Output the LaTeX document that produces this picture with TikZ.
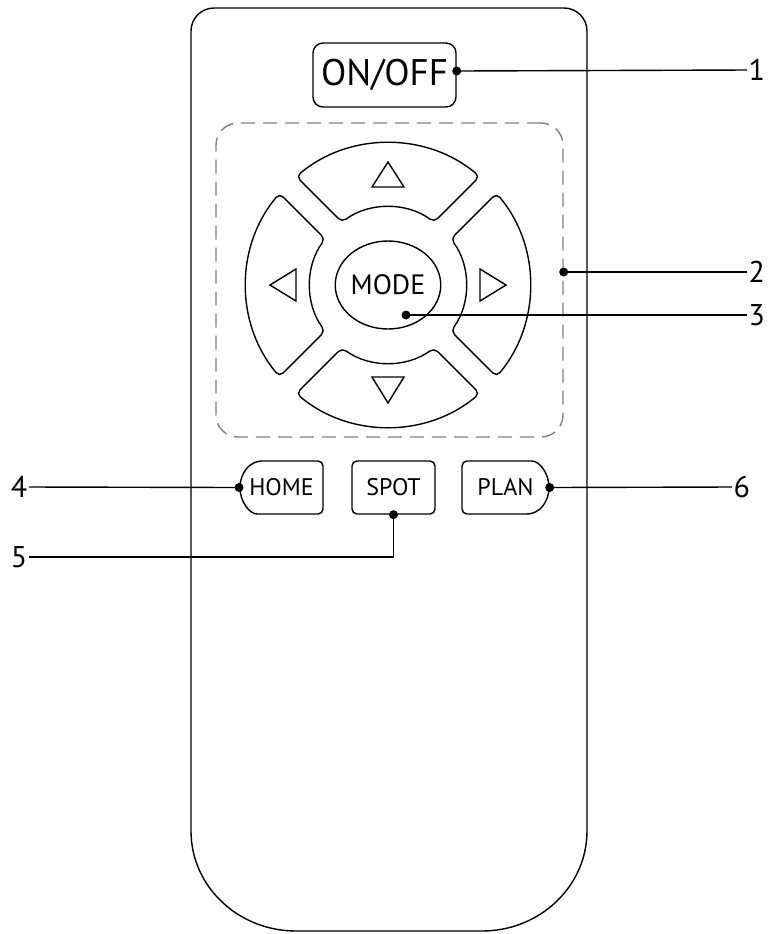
\documentclass[tikz,border=0pt]{standalone}
\usepackage{fontspec}
\setmainfont{PT Sans}
\usetikzlibrary{calc,shapes.geometric}
\def\Rout{142}
\def\rin{78}
\pgfmathsetmacro\dR{asin(12/142)}
\pgfmathsetmacro\dr{asin(12/78)}
\def\padkey[#1](#2)(#3){\draw[#1] ($(#2)+({#3-45+\dR}:\Rout)$) arc[start angle={#3-45+\dR}, end angle={#3+45-\dR}, radius=\Rout] -- ($(#2)+({#3+45-\dr}:\rin)$) arc[start angle={#3+45-\dr}, end angle={#3-45+\dr}, radius=\rin] -- cycle;}

\begin{document}
\begin{tikzpicture}[x=0.5pt, y=-0.5pt, line width=0.7pt,
		btn/.style={draw, rounded corners=2.5pt, font=\fontsize{12}{14}\selectfont, minimum height=26.5pt, inner sep=0pt},
		tag/.style={font=\fontsize{15}{17}\selectfont, inner sep=0.5pt}]
			%%%%% START %%%%%
			
			\useasboundingbox (0,0) rectangle (772,934);
			
			% body
			\draw (191,831) -- (191,31) arc[start angle=180, end angle=270, radius=23] -- (564,8) arc[start angle=270, end angle=360, radius=23] -- (587,831) arc[start angle=0, end angle=90, x radius=105, y radius=100] -- (296,931) arc[start angle=90, end angle=180, x radius=105, y radius=100] -- cycle;
			
			\node[btn, rounded corners=5pt, font=\fontsize{18.5}{20}\selectfont, minimum width=71.5pt, minimum height=32pt] (onoff) at (384.5,75) {ON/OFF};
			
			\node[draw=gray, dash pattern=on 7pt off 4pt, rounded corners=11pt, minimum width=173.5pt, minimum height=157pt] (padbox) at (389.5,280) {};
			
			% direction keys
			\coordinate (pad) at (388,285);
			\foreach \ang in {0,90,180,270} {\padkey[rounded corners=2.5pt](pad)(\ang)}
			\foreach \ang/\tip/\base in {270/123/98, 90/118/92, 180/118/92, 0/118/92}
				\draw ($(pad)+(\ang:\tip)$) -- ($(pad)+(\ang:\base)+({\ang+90}:16)$) -- ($(pad)+(\ang:\base)+({\ang-90}:16)$) -- cycle;
			\node[draw, ellipse, inner sep=0pt, minimum width=47pt, minimum height=44pt, font=\fontsize{14}{16}\selectfont] (mode) at (pad) {MODE};
			
			% lower keys
			\draw[rounded corners=2.5pt] (262,461) -- (323,461) -- (323,514) -- (262,514) arc[start angle=90, end angle=270, x radius=22, y radius=26.5];
			\node[btn, draw=none, minimum width=41.75pt] (home) at (281.5,487.5) {HOME};
			\node[btn, minimum width=41.5pt] (spot) at (393.5,487.5) {SPOT};
			\draw[rounded corners=2.5pt] (527,514) -- (462,514) -- (462,461) -- (527,461) arc[start angle=270, end angle=450, x radius=22, y radius=26.5];
			\node[btn, draw=none, minimum width=43.5pt] (plan) at (505.5,487.5) {PLAN};
			
			% call-outs
			\node[tag, anchor=west] (n1) at (747,70) {1};
			\node[tag, anchor=west] (n2) at (747,272) {2};
			\node[tag, anchor=west] (n3) at (747,315) {3};
			\node[tag, anchor=east] (n4) at (29,487) {4};
			\node[tag, anchor=east] (n5) at (29,557) {5};
			\node[tag, anchor=west] (n6) at (732,487) {6};
			
			\draw ([yshift=2pt]onoff.east) -- (n1.west);
			\fill ([yshift=2pt]onoff.east) circle (4.5);
			\draw ([yshift=4pt]padbox.east) -- (n2.west);
			\fill ([yshift=4pt]padbox.east) circle (4.5);
			\draw ($(mode.center)+(18,30)$) -- (n3.west);
			\fill ($(mode.center)+(18,30)$) circle (4.5);
			\draw (n4.east) -- (home.west);
			\fill (home.west) circle (4.5);
			\draw (n5.east) -| (spot.south);
			\fill (spot.south) circle (4.5);
			\draw (plan.east) -- (n6.west);
			\fill (plan.east) circle (4.5);
			
			%%%%% END %%%%%
		\end{tikzpicture}
\end{document}
